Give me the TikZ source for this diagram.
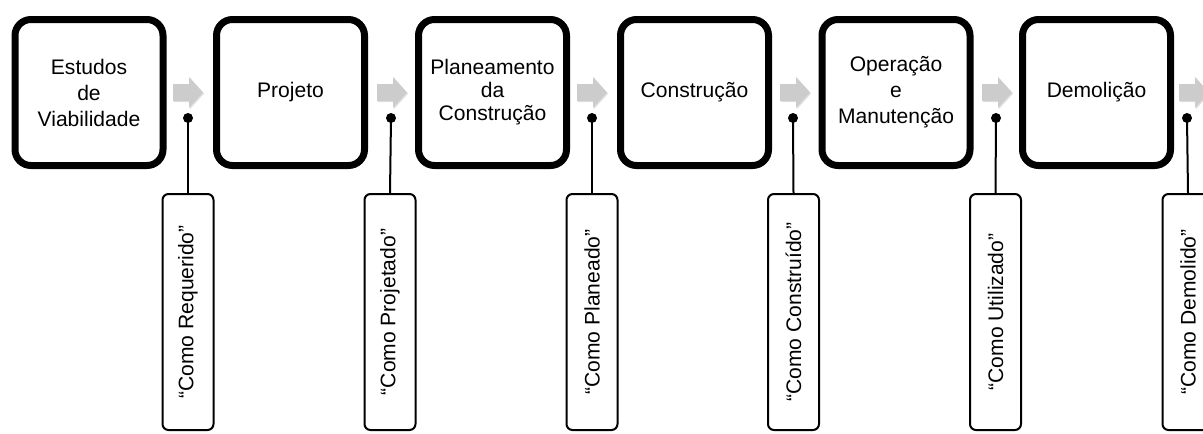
\documentclass[tikz,border=0pt]{standalone}
\usepackage{fontspec}
\setmainfont{Liberation Sans}
\usepackage{graphicx}
\usetikzlibrary{shadows}

\begin{document}
\begin{tikzpicture}[x=0.75pt,y=0.75pt,yscale=-1,xscale=1,
  phase/.style={draw, fill=white, line width=5.25pt, rounded corners=12pt,
    minimum width=111pt, minimum height=109.5pt, align=center, inner sep=0.75pt,
    font=\fontsize{15.8}{19.5}\selectfont,
    drop shadow={shadow xshift=1.5pt, shadow yshift=-1.5pt, opacity=0.25, fill=black}},
  flowarrow/.style={draw=none, fill=black!20,
    drop shadow={shadow xshift=0.8pt, shadow yshift=-0.8pt, opacity=0.12, fill=black}},
  dot/.style={circle, fill=black, inner sep=0pt, minimum size=7.5pt},
  callout/.style={draw, fill=white, line width=1.5pt, rounded corners=4.5pt,
    minimum width=38.25pt, minimum height=177pt, inner sep=0.75pt,
    font=\fontsize{15.8}{19}\selectfont},
  stem/.style={line width=1.5pt}]
\useasboundingbox (0,0) rectangle (1203,433);
\clip (0,0) rectangle (1203,433);

%Shape: Rounded Rectangle [phases]
\node [phase] (viab) at (89,92.5) {Estudos\\de\\Viabilidade};
\node [phase] (proj) at (290.5,92.5) {Projeto};
\node [phase, font=\fontsize{15.8}{17.25}\selectfont] (plan) at (492.5,92.5) {Planeamento\\da\\Construção};
\node [phase] (constr) at (694.5,92.5) {Construção};
\node [phase] (oper) at (896,92.5) {Operação\\e\\Manutenção};
\node [phase] (demol) at (1096.5,92.5) {Demolição};

%Shape: Right Arrow
\draw [flowarrow] (173,84) -- (189,84) -- (189,77) -- (203,92.5) -- (189,108) -- (189,101) -- (173,101) -- cycle ;
%Shape: Right Arrow
\draw [flowarrow] (377,84) -- (393,84) -- (393,77) -- (407,92.5) -- (393,108) -- (393,101) -- (377,101) -- cycle ;
%Shape: Right Arrow
\draw [flowarrow] (577,84) -- (593,84) -- (593,77) -- (607,92.5) -- (593,108) -- (593,101) -- (577,101) -- cycle ;
%Shape: Right Arrow
\draw [flowarrow] (780,84) -- (796,84) -- (796,77) -- (810,92.5) -- (796,108) -- (796,101) -- (780,101) -- cycle ;
%Shape: Right Arrow
\draw [flowarrow] (982,84) -- (998,84) -- (998,77) -- (1012,92.5) -- (998,108) -- (998,101) -- (982,101) -- cycle ;
%Shape: Right Arrow
\draw [flowarrow] (1179,84) -- (1195,84) -- (1195,77) -- (1209,92.5) -- (1195,108) -- (1195,101) -- (1179,101) -- cycle ;

%Shape: Circle [dots]
\node [dot] (d1) at (188,118) {};
\node [dot] (d2) at (391,118) {};
\node [dot] (d3) at (592,118) {};
\node [dot] (d4) at (793,118) {};
\node [dot] (d5) at (996,118) {};
\node [dot] (d6) at (1187,118) {};

% Text Node [callouts]
\node [callout] (asreq) at (188,312) {\rotatebox{90}{“Como Requerido”}};
\node [callout] (asdes) at (390,312) {\rotatebox{90}{“Como Projetado”}};
\node [callout] (asplan) at (592,312) {\rotatebox{90}{“Como Planeado”}};
\node [callout] (asbuilt) at (793.5,312) {\rotatebox{90}{“Como Construído”}};
\node [callout] (asused) at (995.5,312) {\rotatebox{90}{“Como Utilizado”}};
\node [callout] (asdem) at (1188,312) {\rotatebox{90}{“Como Demolido”}};

%Straight Lines [stems]
\draw [stem] (d1.center) -- (asreq.north);
\draw [stem] (d2.center) -- (asdes.north);
\draw [stem] (d3.center) -- (asplan.north);
\draw [stem] (d4.center) -- (asbuilt.north);
\draw [stem] (d5.center) -- (asused.north);
\draw [stem] (d6.center) -- (asdem.north);

\end{tikzpicture}
\end{document}
